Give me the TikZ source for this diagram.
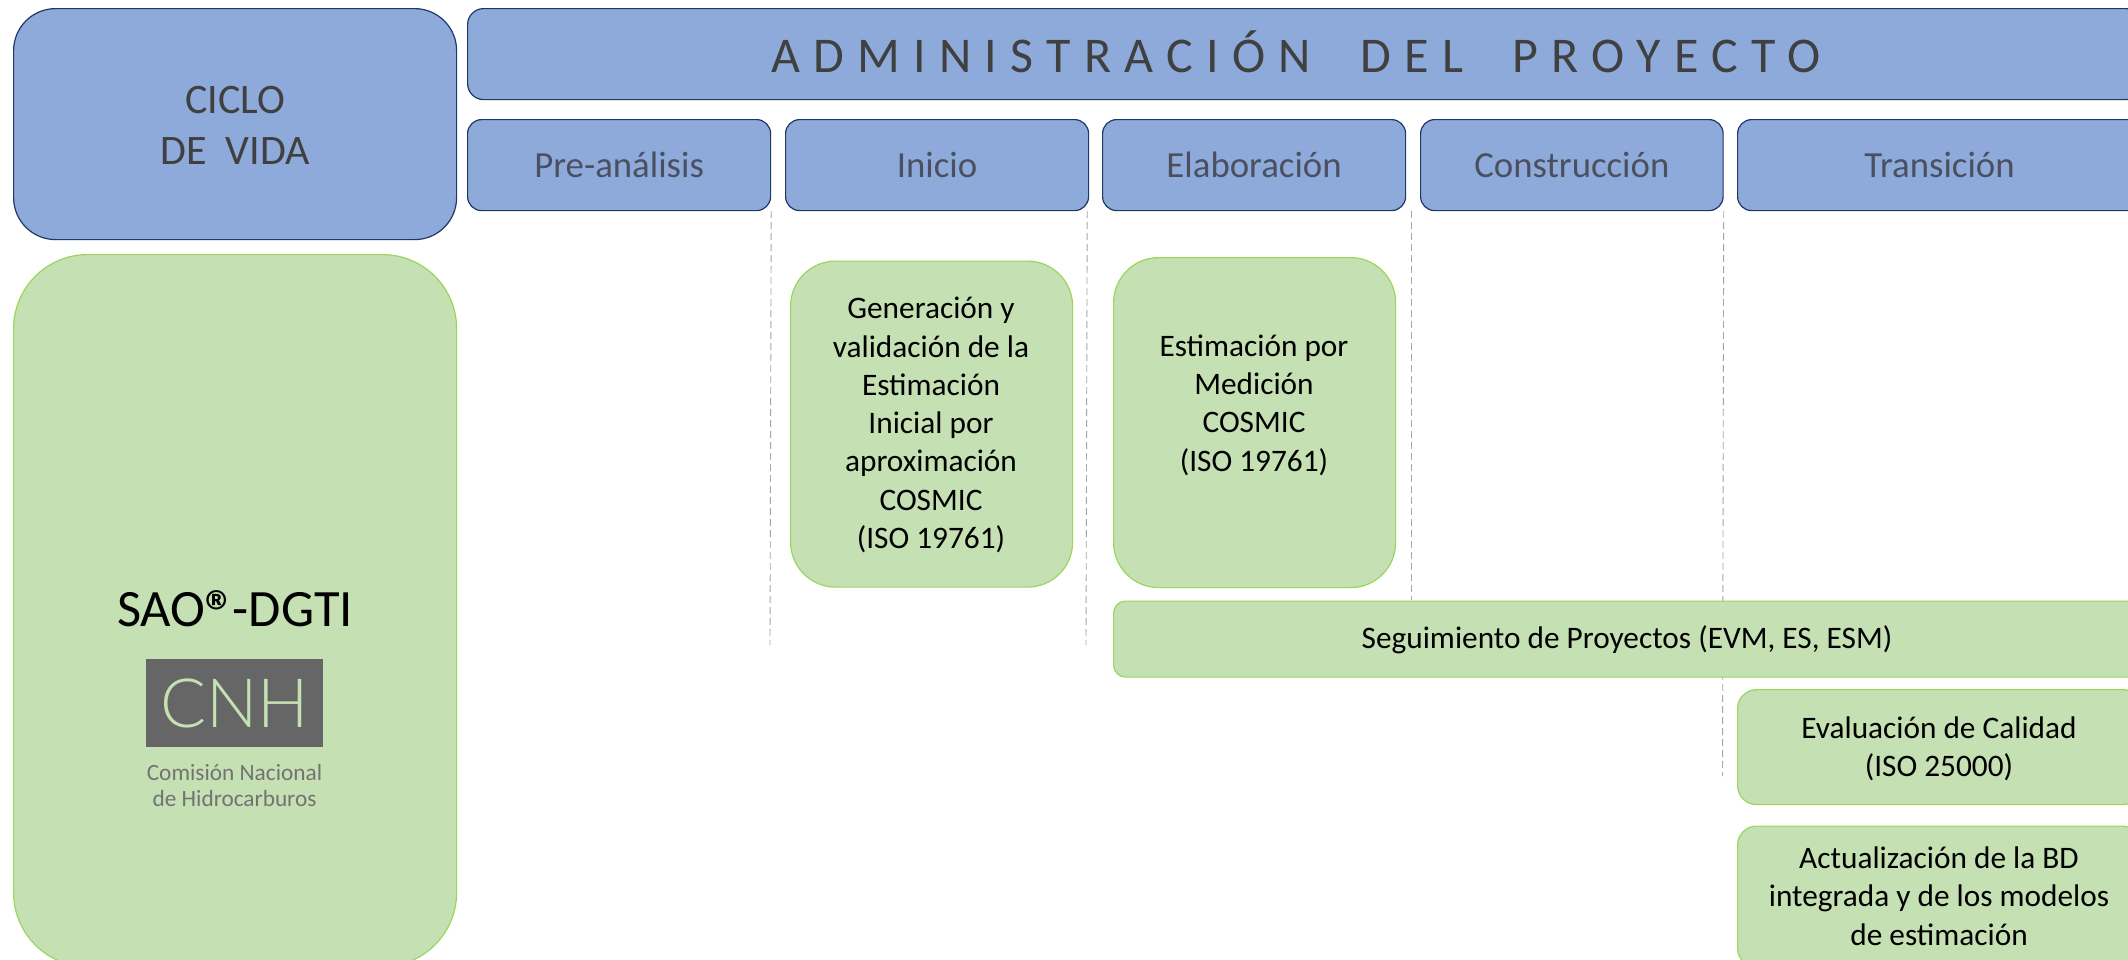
\documentclass[tikz,border=0pt]{standalone}
\usepackage{fontspec}
\newfontfamily\cali{Carlito}
\newfontfamily\logofont{Lato Light}
\definecolor{bluefill}{HTML}{8EAADB}
\definecolor{blueline}{HTML}{1F3864}
\definecolor{greenfill}{HTML}{C5E0B3}
\definecolor{greenline}{HTML}{9BD65C}
\definecolor{headtext}{HTML}{404040}
\definecolor{phasetext}{HTML}{4A5060}
\tikzset{
  px/.style={x=1pt,y=-1pt},
  bluebox/.style={draw=blueline,line width=1.2pt,fill=bluefill,text=headtext,align=center,inner sep=0pt},
  greenbox/.style={draw=greenline,line width=1.2pt,fill=greenfill,text=black,align=center,inner sep=0pt},
  greentext/.style={text=black,align=center,font=\cali\fontsize{31.3}{38.3}\selectfont},
  phasebox/.style={bluebox,rounded corners=14pt,minimum height=91pt,anchor=north west},
  phasetxt/.style={text=phasetext,font=\cali\fontsize{36.8}{44}\selectfont},
  divider/.style={draw=black!35,line width=0.9pt,dash pattern=on 7pt off 4pt},
}
\begin{document}
\begin{tikzpicture}[px]
\useasboundingbox (0,0) rectangle (2128,959);
\clip (0,0) rectangle (2128,959);
\fill[white] (0,0) rectangle (2128,959);
\coordinate (d1e) at (770,645);
\coordinate (d2e) at (1086,645);
\coordinate (d3e) at (1411,600);
\coordinate (d4e) at (1722.5,776);
\node[phasebox,minimum width=303pt] (pre) at (467,119) {};
\node[phasebox,minimum width=303pt] (ini) at (785,119) {};
\node[phasebox,minimum width=303pt] (ela) at (1102,119) {};
\node[phasebox,minimum width=302.5pt] (con) at (1420,119) {};
\node[phasebox,minimum width=404pt] (tra) at (1737,119) {};
\node[phasetxt] (pret) at (pre.center) {Pre-análisis};
\node[phasetxt] (init) at (ini.center) {Inicio};
\node[phasetxt] (elat) at (ela.center) {Elaboración};
\node[phasetxt] (cont) at (con.center) {Construcción};
\node[phasetxt] (trat) at (tra.center) {Transición};
\draw[divider] (pre.south east) -- (d1e);
\draw[divider] (ini.south east) ++(-2,0) coordinate (d2s) -- (d2e);
\draw[divider] (con.south west) ++(-9,0) coordinate (d3s) -- (d3e);
\draw[divider] (con.south east) -- (d4e);
\node[bluebox,rounded corners=42pt,minimum width=443pt,minimum height=231pt,anchor=north west] (ciclo) at (13,8) {};
\node[text=headtext,align=center,font=\cali\fontsize{42}{51}\selectfont] (ciclot) at (235,125) {CICLO\\DE\ \ VIDA};
\node[bluebox,rounded corners=16pt,minimum width=1674pt,minimum height=91pt,anchor=north west] (adm) at (467,8) {};
\node[text=headtext,font=\cali\fontsize{50}{60}\selectfont] (admt) at (1296,52) {\addfontfeature{LetterSpace=26.6}ADMINISTRACIÓN\ \ DEL\ \ PROYECTO};
\node[greenbox,rounded corners=74pt,minimum width=443pt,minimum height=712pt,anchor=north west] (sao) at (13,254) {};
\node[font=\cali\fontsize{52.5}{60}\selectfont,text=black] (saot) at (235,612) {SAO\raisebox{-6pt}{\fontsize{60}{60}\selectfont\bfseries ®}\kern-3pt-DGTI};
\node[fill=black!60,minimum width=177pt,minimum height=88pt,inner sep=0pt,anchor=north west] (logo) at (146,659) {};
\node[text=greenfill,font=\logofont\fontsize{68}{72}\selectfont] (cnh) at (234.5,703) {CNH};
\node[text=black!55,align=center,font=\cali\fontsize{23.3}{26}\selectfont] (cnht) at (234.5,785) {Comisión Nacional\\de Hidrocarburos};
\node[greenbox,rounded corners=45pt,minimum width=282pt,minimum height=326pt,anchor=north west] (g1) at (790,260.5) {};
\node[greentext] (g1t) at (931,425) {Generación y\\validación de la\\Estimación\\Inicial por\\aproximación\\COSMIC\\(ISO 19761)};
\node[greenbox,rounded corners=45pt,minimum width=282pt,minimum height=330pt,anchor=north west] (g2) at (1113,257) {};
\node[greentext] (g2t) at (1254,405) {Estimación por\\Medición\\COSMIC\\(ISO 19761)};
\node[greenbox,rounded corners=12pt,minimum width=1028pt,minimum height=76pt,anchor=north west] (seg) at (1113,600.5) {};
\node[greentext] (segt) at (1627,640) {Seguimiento de Proyectos (EVM, ES, ESM)};
\node[greenbox,rounded corners=19pt,minimum width=404pt,minimum height=115pt,anchor=north west] (eva) at (1737,689) {};
\node[greentext] (evat) at (1939,749) {Evaluación de Calidad\\(ISO 25000)};
\node[greenbox,rounded corners=19pt,minimum width=404pt,minimum height=141pt,anchor=north west] (act) at (1737,825.5) {};
\node[greentext] (actt) at (1939,896) {Actualización de la BD\\integrada y de los modelos\\de estimación};
\end{tikzpicture}
\end{document}
